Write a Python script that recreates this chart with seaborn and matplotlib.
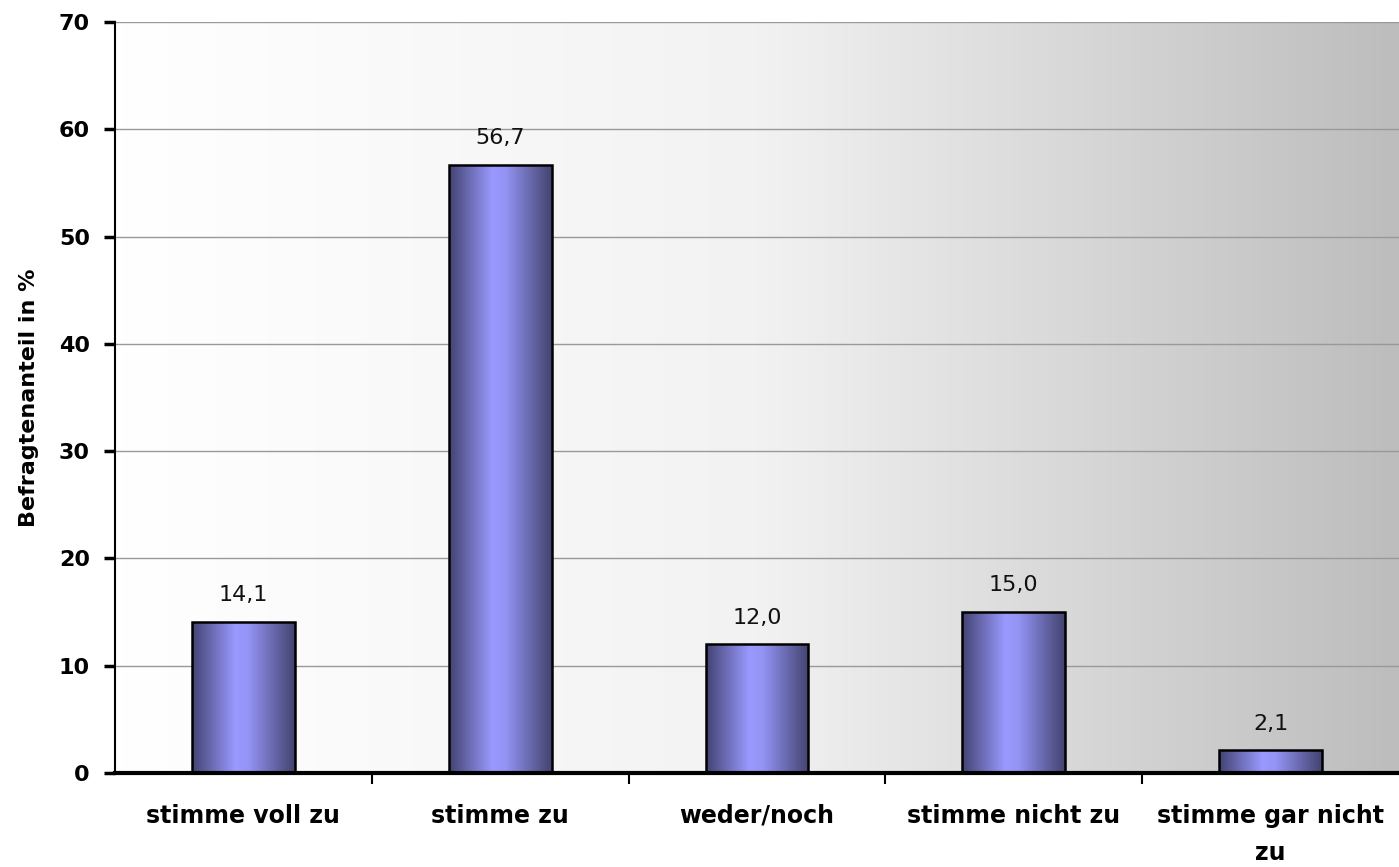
import numpy as np
import pandas as pd
import matplotlib
matplotlib.use("Agg")
import matplotlib.pyplot as plt
import seaborn as sns
from matplotlib.colors import LinearSegmentedColormap

categories = ["stimme voll zu", "stimme zu", "weder/noch", "stimme nicht zu", "stimme gar nicht\nzu"]
values = [14.1, 56.7, 12.0, 15.0, 2.1]
value_labels = ["14,1", "56,7", "12,0", "15,0", "2,1"]
y_ticks = [0, 10, 20, 30, 40, 50, 60, 70]
y_label = "Befragtenanteil in %"

sns.set_theme(style="white")
plt.rcParams['font.family'] = ['DejaVu Sans']
plt.rcParams['text.color'] = 'black'
plt.rcParams['axes.labelcolor'] = 'black'
plt.rcParams['xtick.color'] = 'black'
plt.rcParams['ytick.color'] = 'black'

fig = plt.figure(figsize=(13.99, 8.67), dpi=100)
ax = fig.add_axes([0.0822, 0.1084, 0.9178, 0.8662])

df = pd.DataFrame({"cat": categories, "val": values})
sns.barplot(data=df, x="cat", y="val", width=0.4, color="#9999ff",
            edgecolor="black", linewidth=1.8, ax=ax, zorder=3)

ax.set_xlim(-0.5, len(categories) - 0.5)
ax.set_ylim(0, 70)

# background gradient
bg = LinearSegmentedColormap.from_list("bg", ["#ffffff", "#f2f2f2", "#bdbdbd"])
grad = np.linspace(0, 1, 256).reshape(1, -1)
ax.imshow(grad, extent=[-0.5, len(categories) - 0.5, 0, 70], aspect="auto",
          cmap=bg, zorder=0, interpolation="bicubic")

# bar gradients
barcmap = LinearSegmentedColormap.from_list(
    "bar", [(0, "#434373"), (0.42, "#9999ff"), (0.55, "#9494f5"), (1, "#434370")])
for p in ax.patches:
    x0, y0 = p.get_x(), p.get_y()
    w, h = p.get_width(), p.get_height()
    im = ax.imshow(grad, extent=[x0, x0 + w, y0, y0 + h], aspect="auto",
                   cmap=barcmap, zorder=3.5, interpolation="bicubic")
    im.set_clip_path(p)
    p.set_facecolor("none")
    p.set_zorder(4)

ax.set_xlim(-0.5, len(categories) - 0.5)
ax.set_ylim(0, 70)

# grid lines
for yv in y_ticks[1:]:
    ax.axhline(yv, color="#999999", linewidth=1.0, zorder=1)

# value labels
ax.bar_label(ax.containers[0], labels=value_labels, padding=12,
             fontsize=16, color="#111111", zorder=5)

# y axis
ax.set_yticks(y_ticks)
ax.set_yticklabels([str(t) for t in y_ticks], fontsize=16, fontweight="bold")
ax.tick_params(axis="y", which="major", direction="out", length=8, width=2.5,
               color="black", left=True, pad=10)
ax.set_ylabel(y_label, fontsize=16, fontweight="bold", labelpad=14)

# x axis: ticks at boundaries, labels at centers
ax.set_xticks(np.arange(0.5, len(categories) - 0.5, 1.0))
ax.set_xticklabels([])
ax.set_xticks(np.arange(len(categories)), minor=True)
ax.set_xticklabels(categories, minor=True, fontsize=17, fontweight="bold",
                   linespacing=1.7)
ax.tick_params(axis="x", which="major", direction="out", length=8, width=1.5,
               color="black", bottom=True)
ax.tick_params(axis="x", which="minor", length=0, pad=22)
ax.set_xlabel("")

for s in ["top", "right"]:
    ax.spines[s].set_visible(False)
ax.spines["left"].set_color("black")
ax.spines["left"].set_linewidth(1.5)
ax.spines["bottom"].set_color("black")
ax.spines["bottom"].set_linewidth(3)
ax.spines["bottom"].set_zorder(6)

fig.savefig("out.png", dpi=100)
